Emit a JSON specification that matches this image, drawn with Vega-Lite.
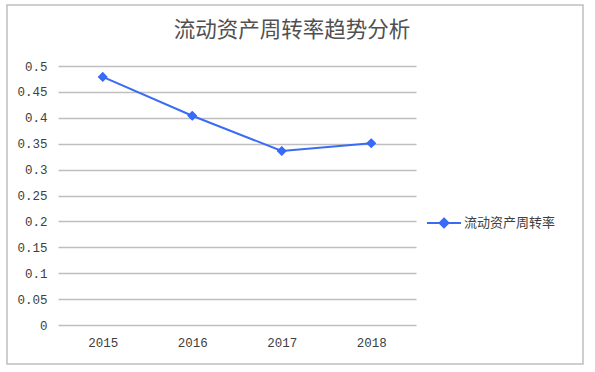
{
  "$schema": "https://vega.github.io/schema/vega-lite/v6.json",
  "autosize": "none",
  "padding": {"left": 7, "top": 5, "right": 12, "bottom": 8},
  "width": 576,
  "height": 359,
  "background": "white",
  "title": {
    "text": "流动资产周转率趋势分析",
    "font": "Noto Sans CJK SC",
    "fontSize": 21.5,
    "fontWeight": "normal",
    "color": "#505050",
    "frame": "group",
    "anchor": "middle",
    "baseline": "middle",
    "offset": -47,
    "dx": -3
  },
  "data": {
    "values": [
      {"year": "2015", "value": 0.479, "series": "流动资产周转率"},
      {"year": "2016", "value": 0.404, "series": "流动资产周转率"},
      {"year": "2017", "value": 0.336, "series": "流动资产周转率"},
      {"year": "2018", "value": 0.351, "series": "流动资产周转率"}
    ]
  },
  "mark": {
    "type": "line",
    "strokeWidth": 2,
    "point": {"shape": "diamond", "filled": true, "size": 70, "stroke": "#3366FF", "strokeWidth": 1.2}
  },
  "encoding": {
    "x": {
      "field": "year",
      "type": "ordinal",
      "scale": {"type": "point", "range": [51, 409], "padding": 0.5},
      "axis": {
        "title": null,
        "orient": "bottom",
        "offset": -39,
        "domain": false,
        "ticks": false,
        "tickSize": 0,
        "grid": false,
        "labelAngle": 0,
        "labelPadding": 11,
        "labelFont": "Liberation Mono",
        "labelFontSize": 12.5,
        "labelColor": "#404040"
      }
    },
    "y": {
      "field": "value",
      "type": "quantitative",
      "scale": {"domain": [0, 0.5], "range": [320, 61], "nice": false, "zero": true},
      "axis": {
        "title": null,
        "orient": "left",
        "offset": -51,
        "values": [0, 0.05, 0.1, 0.15, 0.2, 0.25, 0.3, 0.35, 0.4, 0.45, 0.5],
        "format": ".2~f",
        "domain": false,
        "ticks": false,
        "tickSize": 0,
        "grid": true,
        "gridColor": "#BFBFBF",
        "gridWidth": 1.5,
        "labelPadding": 11,
        "labelFont": "Liberation Mono",
        "labelFontSize": 12.5,
        "labelColor": "#404040"
      }
    },
    "color": {
      "field": "series",
      "type": "nominal",
      "scale": {"range": ["#3A6BF5"]},
      "legend": {
        "title": null,
        "orient": "none",
        "legendX": 419,
        "legendY": 200,
        "symbolType": "M-1,0L1,0M0,-0.26L0.26,0L0,0.26L-0.26,0Z",
        "symbolSize": 1156,
        "symbolStrokeWidth": 2,
        "symbolFillColor": "#3A6BF5",
        "labelFont": "Noto Sans CJK SC",
        "labelFontSize": 13,
        "labelColor": "#404040",
        "labelOffset": 2
      }
    }
  },
  "config": {
    "view": {"stroke": "#BFBFBF", "strokeWidth": 1.5}
  }
}
